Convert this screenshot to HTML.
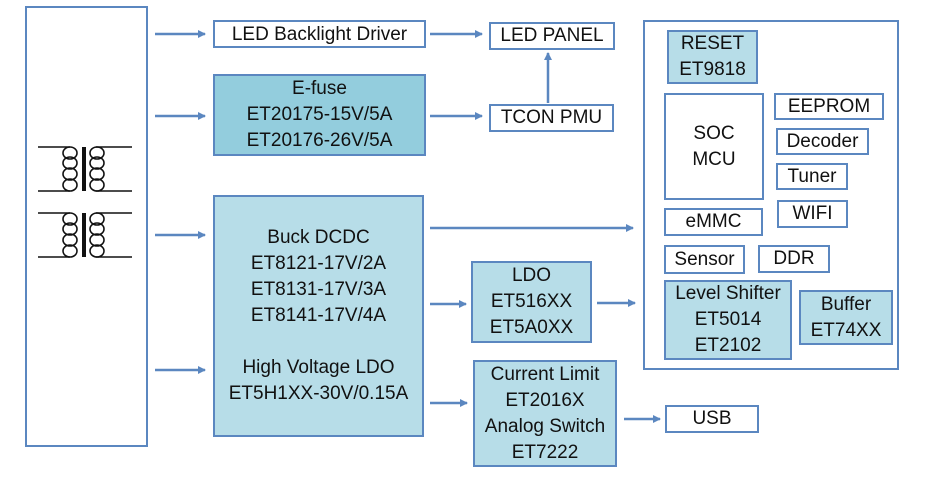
<!DOCTYPE html>
<html><head><meta charset="utf-8"><style>
body{margin:0;width:925px;height:480px;background:#fff;position:relative;overflow:hidden;font-family:"Liberation Sans",sans-serif;}
.b{position:absolute;box-sizing:border-box;border:2.5px solid #5b87c0;display:flex;flex-direction:column;align-items:center;justify-content:center;text-align:center;font-size:19px;line-height:26px;color:#111;}
.d{background:#93cddd;}
.l{background:#b7dde8;}
svg{position:absolute;left:0;top:0;}
</style></head><body>
<div class="b" style="left:25px;top:6px;width:123px;height:441px"></div>
<div class="b" style="left:213px;top:20px;width:213px;height:28px;padding-top:2px">LED Backlight Driver</div>
<div class="b d" style="left:213px;top:74px;width:213px;height:82px">E-fuse<br>ET20175-15V/5A<br>ET20176-26V/5A</div>
<div class="b l" style="left:213px;top:195px;width:211px;height:242px">Buck DCDC<br>ET8121-17V/2A<br>ET8131-17V/3A<br>ET8141-17V/4A<br><br>High Voltage LDO<br>ET5H1XX-30V/0.15A</div>
<div class="b" style="left:489px;top:22px;width:126px;height:28px">LED PANEL</div>
<div class="b" style="left:489px;top:104px;width:125px;height:28px">TCON PMU</div>
<div class="b l" style="left:471px;top:261px;width:121px;height:82px">LDO<br>ET516XX<br>ET5A0XX</div>
<div class="b l" style="left:473px;top:360px;width:144px;height:107px">Current Limit<br>ET2016X<br>Analog Switch<br>ET7222</div>
<div class="b" style="left:665px;top:405px;width:94px;height:28px">USB</div>
<div class="b" style="left:643px;top:20px;width:256px;height:350px"></div>
<div class="b l" style="left:667px;top:30px;width:91px;height:54px">RESET<br>ET9818</div>
<div class="b" style="left:664px;top:93px;width:100px;height:107px">SOC<br>MCU</div>
<div class="b" style="left:774px;top:93px;width:110px;height:27px">EEPROM</div>
<div class="b" style="left:776px;top:128px;width:93px;height:27px">Decoder</div>
<div class="b" style="left:776px;top:163px;width:72px;height:27px">Tuner</div>
<div class="b" style="left:777px;top:200px;width:71px;height:28px">WIFI</div>
<div class="b" style="left:664px;top:208px;width:99px;height:28px">eMMC</div>
<div class="b" style="left:664px;top:245px;width:81px;height:29px">Sensor</div>
<div class="b" style="left:758px;top:245px;width:72px;height:28px">DDR</div>
<div class="b l" style="left:664px;top:280px;width:128px;height:80px">Level Shifter<br>ET5014<br>ET2102</div>
<div class="b l" style="left:799px;top:290px;width:94px;height:55px">Buffer<br>ET74XX</div>
<svg width="925" height="480">
<defs><marker id="a" markerWidth="8" markerHeight="8" refX="7" refY="4" orient="auto" markerUnits="userSpaceOnUse"><path d="M0,0 L8,4 L0,8 z" fill="#5b87c0"/></marker></defs>
<g stroke="#5b87c0" stroke-width="2.5" marker-end="url(#a)">
<line x1="155" y1="34" x2="205" y2="34"/>
<line x1="155" y1="116" x2="205" y2="116"/>
<line x1="155" y1="235" x2="205" y2="235"/>
<line x1="155" y1="370" x2="205" y2="370"/>
<line x1="430" y1="34" x2="482" y2="34"/>
<line x1="430" y1="116" x2="482" y2="116"/>
<line x1="548" y1="103" x2="548" y2="53"/>
<line x1="430" y1="228" x2="633" y2="228"/>
<line x1="430" y1="304" x2="466" y2="304"/>
<line x1="597" y1="303" x2="635" y2="303"/>
<line x1="430" y1="403" x2="467" y2="403"/>
<line x1="624" y1="419" x2="660" y2="419"/>
</g>
<g stroke="#111" stroke-width="1.6" fill="none">
<g id="t">
<line x1="38" y1="147" x2="70" y2="147"/><line x1="38" y1="191" x2="70" y2="191"/>
<line x1="96" y1="147" x2="132" y2="147"/><line x1="96" y1="191" x2="132" y2="191"/>
<line x1="84" y1="147" x2="84" y2="191" stroke-width="4"/>
<ellipse cx="70" cy="153" rx="7" ry="6"/><ellipse cx="70" cy="163" rx="7" ry="6"/><ellipse cx="70" cy="174" rx="7" ry="6"/><ellipse cx="70" cy="185" rx="7" ry="6"/>
<ellipse cx="97" cy="153" rx="7" ry="6"/><ellipse cx="97" cy="163" rx="7" ry="6"/><ellipse cx="97" cy="174" rx="7" ry="6"/><ellipse cx="97" cy="185" rx="7" ry="6"/>
</g>
<use href="#t" y="66"/>
</g>
</svg>
</body></html>
